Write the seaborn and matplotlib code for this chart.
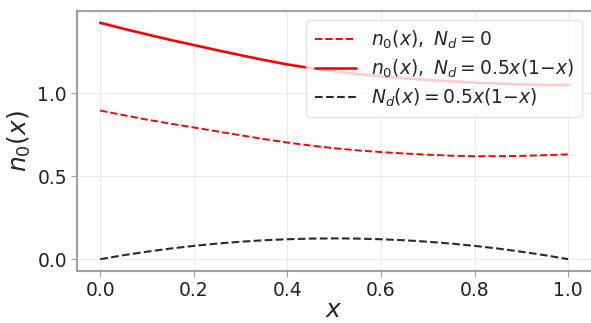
import numpy as np
import pandas as pd
import matplotlib
matplotlib.use("Agg")
import matplotlib.pyplot as plt
import seaborn as sns

# Data
x_vals = [0.0, 0.05, 0.1, 0.15, 0.2, 0.25, 0.3, 0.35, 0.4, 0.45, 0.5,
          0.55, 0.6, 0.65, 0.7, 0.75, 0.8, 0.85, 0.9, 0.95, 1.0]
n0_nd0 = [0.895, 0.867, 0.840, 0.816, 0.793, 0.769, 0.746, 0.723, 0.702, 0.684, 0.668,
          0.655, 0.645, 0.636, 0.629, 0.623, 0.620, 0.620, 0.622, 0.626, 0.631]
n0_ndx = [1.423, 1.387, 1.353, 1.320, 1.289, 1.258, 1.228, 1.199, 1.172, 1.150, 1.131,
          1.115, 1.101, 1.089, 1.079, 1.070, 1.063, 1.057, 1.052, 1.049, 1.048]
nd_x = [0.0, 0.024, 0.045, 0.064, 0.080, 0.094, 0.105, 0.114, 0.120, 0.124, 0.125,
        0.124, 0.120, 0.114, 0.105, 0.094, 0.080, 0.064, 0.045, 0.024, 0.0]

labels = [r'$n_0(x),\ N_d=0$',
          r'$n_0(x),\ N_d=0.5x(1{-}x)$',
          r'$N_d(x)=0.5x(1{-}x)$']

sns.set_style("whitegrid", {
    "axes.edgecolor": "#a0a0a0",
    "grid.color": "#ebebeb",
    "xtick.bottom": True,
    "ytick.left": True,
    "xtick.color": "#222222",
    "ytick.color": "#222222",
})
plt.rcParams['font.family'] = ['DejaVu Sans']
plt.rcParams['xtick.major.size'] = 4
plt.rcParams['ytick.major.size'] = 4

fig = plt.figure(figsize=(5.91, 3.23), dpi=100)
ax = fig.add_axes([0.130, 0.161, 0.871, 0.805])

df = pd.DataFrame({"x": x_vals, "a": n0_nd0, "b": n0_ndx, "c": nd_x})

sns.lineplot(data=df, x="x", y="a", ax=ax, color="#ff0000", linestyle="--", lw=1.4, label=labels[0])
sns.lineplot(data=df, x="x", y="b", ax=ax, color="#ff0000", linestyle="-", lw=1.9, label=labels[1])
sns.lineplot(data=df, x="x", y="c", ax=ax, color="#2a2a2a", linestyle="--", lw=1.5, label=labels[2])

for sp in ax.spines.values():
    sp.set_color("#a0a0a0")
    sp.set_linewidth(1.5)

ax.set_xticks([0.0, 0.2, 0.4, 0.6, 0.8, 1.0])
ax.set_yticks([0.0, 0.5, 1.0])
ax.tick_params(axis="both", labelsize=13.5, color="#a0a0a0", pad=3)
ax.set_xlabel(r'$x$', fontsize=18, labelpad=-1)
ax.set_ylabel(r'$n_0(x)$', fontsize=18, labelpad=3)

leg = ax.legend(loc="upper right", fontsize=13.5, frameon=True, framealpha=0.8,
                handlelength=2.2, labelspacing=0.35, borderpad=0.45, handletextpad=0.8)
leg.get_frame().set_edgecolor("#dddddd")

fig.savefig("out.png", dpi=100)
